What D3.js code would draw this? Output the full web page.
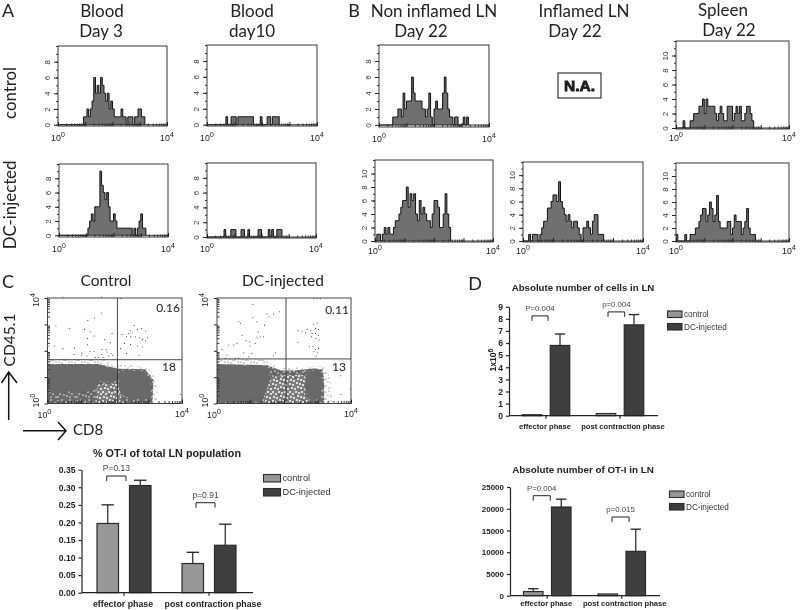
<!DOCTYPE html>
<html><head><meta charset="utf-8">
<style>
html,body{margin:0;padding:0;background:#fff}
svg{display:block;filter:blur(0.35px)}
text{font-family:"Liberation Sans",Arial,sans-serif;fill:#222}
</style>
<script src="https://cdn.jsdelivr.net/npm/d3@7/dist/d3.min.js"></script>
</head><body>
<script>
// ---------- histogram counts: one value per 1/16 decade, from 10^0 upward
const histBloodDay3Control = [0,0,0,0,0,0,0,0,0,0,0,0,0,0,0,1,1,2,1,2,3,6,4,5,4,6,5,4,3,4,2,3,2,1,1,1,1,2,1,1,0,1,1,1,0,1,1,2,2,1,1];
const histBloodDay10Control = [0,0,0,0,0,0,0,0,0,0,0,1,0,0,1,1,1,0,1,1,1,1,1,1,1,1,1,0,0,0,0,1,0,0,0,1,1,0,1,1,1,1];
const histBloodDay3Dc = [0,0,0,0,0,0,0,0,0,0,0,0,0,0,0,0,0,1,2,3,2,4,4,4,9,7,6,5,6,4,2,2,3,2,1,1,1,1,1,1,1,1,1,0,1,0,1,2,3,1,1];
const histBloodDay10Dc = [0,0,0,0,0,0,0,0,0,0,1,0,0,0,1,1,1,0,0,0,1,1,0,0,1,0,0,0,0,0,1,1,0,0,0,0,1,0,1,0,0,1,1,1];
const histNonInflControl = [0,0,0,0,0,0,0,0,1,1,1,2,2,1,4,2,3,3,3,6,4,3,3,3,3,2,2,1,2,4,1,0,2,3,2,2,2,4,6,4,2,1,1,0,1,1,0,0,0,1,0,1];
const histNonInflDc = [0,1,1,0,1,2,1,2,1,1,2,3,3,4,5,6,6,8,5,7,6,7,4,3,6,4,5,4,3,3,2,4,6,6,5,2,2,4,7,4,2];
const histInflDc = [0,0,0,1,0,1,1,1,0,1,2,3,3,5,5,6,7,7,6,9,6,5,4,3,4,3,2,3,3,2,1,0,2,2,3,2,1,3,4,4,1,1,1];
const histSpleenControl = [0,0,0,0,1,0,0,0,1,1,2,2,2,3,3,4,2,4,3,3,3,3,2,1,2,3,2,1,1,3,3,3,1,2,3,2,3,1,1,2,3,3,2,1];
const histSpleenDc = [1,0,0,0,0,1,0,0,1,1,1,2,2,3,4,5,5,3,4,6,5,3,4,7,3,2,2,2,2,3,3,1,2,4,3,3,3,1,2,3,5,2,1,1,1];
const histTicksTall = [0,2,4,6,8];
const histTicksLong = [0,2,4,6,8,10];

// ---------- dot plots: [log10 CD8, log10 CD45.1]
const dotsControl = [[.25,2.94],[.65,2.85],[1.20,3.15],[1.40,3.24],[1.60,3.43],[1.10,2.81],[1.27,2.72],[1.39,2.56],[1.92,2.66],[1.70,2.42],[1.19,2.46],[1.19,2.23],[1.87,2.30],[.80,2.09],[.46,2.08],[.20,2.18],[.05,2.18],[.79,1.86],[1.02,1.91],[1.27,1.97],[1.39,1.97],[1.62,2.05],[1.74,2.05],[1.77,1.95],[1.89,1.89],[1.94,1.82],[1.02,1.82],[1.17,1.80],[1.62,1.86],[1.82,1.80],[1.42,1.75],[1.52,1.75],[1.65,1.75],[2.22,2.62],[2.58,2.96],[2.47,2.75],[2.42,2.65],[2.52,2.68],[2.67,2.81],[2.80,2.84],[2.92,2.75],[2.35,2.53],[2.47,2.53],[2.62,2.53],[2.73,2.49],[2.82,2.43],[2.97,2.49],[2.92,2.37],[2.29,2.28],[2.47,2.24],[2.67,2.18],[2.82,2.15],[2.17,2.08],[2.35,1.90],[2.72,1.82],[.46,4.03],[1.60,4.04],[2.17,3.98],[3.62,1.45],[3.95,.35]];
const dotsDc = [[1.07,3.76],[.65,3.10],[.70,3.04],[1.07,3.25],[1.19,3.10],[1.49,3.39],[1.54,3.29],[1.69,3.39],[1.86,3.48],[1.42,2.97],[1.24,2.72],[.75,2.59],[.87,2.38],[.98,2.34],[1.19,2.51],[1.29,2.53],[1.39,2.53],[.60,2.28],[.50,2.22],[.35,2.22],[.15,2.05],[.30,1.84],[.80,1.92],[.99,2.18],[1.14,2.28],[1.04,1.90],[1.74,1.92],[1.69,1.81],[.65,1.71],[.95,1.77],[1.37,1.65],[.25,1.71],[.55,1.71],[2.42,2.76],[2.54,2.72],[2.64,2.68],[2.69,2.81],[2.79,2.76],[2.89,3.01],[2.99,3.04],[2.94,2.85],[3.03,2.81],[2.84,2.66],[2.94,2.66],[3.03,2.59],[2.82,2.53],[2.96,2.47],[3.05,2.41],[2.42,2.32],[2.76,2.15],[2.86,2.15],[2.94,2.05],[3.03,2.09],[2.89,1.96],[3.01,1.92],[2.96,1.80],[2.89,3.97],[2.99,3.97],[3.09,3.97],[3.70,1.05],[3.98,.55],[3.7,.35]];
// population outlines in the same log units
const fringeControl = [[0,1.45],[0,1.72],[1.0,1.66],[1.6,1.66],[2.0,1.5],[2.5,1.45],[3.0,1.35],[3.22,1.0],[3.28,.5],[3.25,0],[0,0]];
const speckleControl = [[0,0],[3.12,0],[3.15,.9],[2.9,1.3],[2.1,1.32],[1.5,1.5],[0,1.5]];
const heavyControl = [[1.5,.72],[2.12,.75],[2.2,.15],[2.1,0],[1.45,0]];
const solidControlLeft = [[0,1.48],[1.48,1.48],[2.0,1.3],[2.12,1.0],[1.95,.82],[1.56,.85],[1.43,.53],[1.15,.45],[.88,.38],[.6,.47],[.35,.40],[0,.43]];
const solidControlRight = [[2.13,1.23],[2.88,1.23],[3.06,.85],[3.08,.15],[2.78,.22],[2.5,.18],[2.28,.28],[2.13,.53]];
const fringeDc = [[0,1.45],[0,1.75],[1.4,1.65],[1.9,1.35],[2.3,1.38],[3.2,1.42],[3.4,.9],[3.45,0],[0,0]];
const speckleDc = [[0,0],[3.2,0],[3.2,.9],[3.15,1.3],[2.9,1.33],[2.3,1.25],[1.9,1.25],[1.5,1.45],[0,1.5]];
const heavyDc = [[1.55,.95],[2.0,1.08],[2.62,1.08],[2.62,.25],[2.75,.2],[2.75,0],[1.35,0]];
const solidDcLeft = [[0,1.46],[1.39,1.42],[1.54,1.27],[1.59,.89],[1.44,.38],[1.34,.06],[0,.06]];
const solidDcRight = [[2.69,1.2],[3.08,1.27],[3.15,.76],[3.08,.19],[2.69,.25],[2.64,.76]];

// ---------- bar charts
const phases = ["effector phase","post contraction phase"];
const seriesNames = ["control","DC-injected"];
const pctMeans = [[.197,.305],[.083,.135]];
const pctTops = [[.25,.32],[.115,.195]];
const pctTicks = [0,.05,.10,.15,.20,.25,.30,.35];
const pctP = ["P=0.13","p=0.91"];
const pctBracket = [.332,.256];
const cellsMeans = [[.08,5.8],[.18,7.5]];
const cellsTops = [[null,6.75],[null,8.35]];
const cellsTicks = [0,1,2,3,4,5,6,7,8,9];
const cellsP = ["P=0.004","p=0.004"];
const cellsBracket = [8.24,8.57];
const otiMeans = [[950,20400],[400,10200]];
const otiTops = [[1600,22200],[null,15300]];
const otiTicks = [0,5000,10000,15000,20000,25000];
const otiP = ["P=0.004","p=0.015"];
const otiBracket = [23000,18100];

// ---------- drawing
const svg = d3.select("body").append("svg").attr("width",800).attr("height",610);
const defs = svg.append("defs");
function speckPattern(id,size,bg,dots,r,color,dark){
  const p=defs.append("pattern").attr("id",id).attr("patternUnits","userSpaceOnUse").attr("width",size).attr("height",size);
  if(bg) p.append("rect").attr("width",size).attr("height",size).attr("fill",bg);
  dots.forEach(d=>p.append("circle").attr("cx",d[0]).attr("cy",d[1]).attr("r",r).attr("fill",color));
  (dark||[]).forEach(d=>p.append("circle").attr("cx",d[0]).attr("cy",d[1]).attr("r",.5).attr("fill","#222"));
}
speckPattern("speck",19,"#6a6a6a",[[1,2],[5,1],[9,3],[13,1],[17,4],[3,6],[7,7],[12,6],[15,8],[1,10],[5,11],[9,10],[18,11],[12,12],[3,14],[7,15],[15,14],[10,16],[1,17],[13,17],[18,17]],.72,"#fff",[[6,4],[14,10],[8,13]]);
speckPattern("heavy",17,"#7d7d7d",[[1,1],[4,3],[7,1],[10,2],[13,1],[16,3],[2,6],[5,7],[9,5],[12,6],[15,7],[1,10],[4,11],[8,9],[11,10],[14,11],[3,14],[6,15],[9,13],[12,14],[16,15]],1,"#fff",[[7,4],[13,9],[2,12],[10,16]]);
speckPattern("fringe",13,null,[[1,2],[4,1],[8,2],[11,4],[3,5],[6,6],[9,8],[12,9],[1,9],[4,11],[7,11],[10,12]],.55,"#333");

const bigFont='Lato,"Open Sans",sans-serif';
function label(g,x,y,t,size,opt={}){
  const el=g.append("text").attr("x",x).attr("y",y).attr("font-size",size).attr("text-anchor",opt.anchor||"middle").text(t);
  if(opt.big) el.style("font-family",bigFont);
  if(opt.bold) el.attr("font-weight","bold");
  if(opt.rotate) el.attr("transform",`rotate(-90 ${x} ${y})`);
  if(opt.fill) el.style("fill",opt.fill);
  return el;
}
function powerLabel(g,x,y,exp,size,rotate){
  const el=g.append("text").attr("x",x).attr("y",y).attr("font-size",size).attr("text-anchor","middle");
  if(rotate) el.attr("transform",`rotate(-90 ${x} ${y})`);
  el.append("tspan").text("10");
  el.append("tspan").attr("dy",-size*.4).attr("font-size",size*.85).text(exp);
}
const logMajor=[1,10,100,1000,10000];
const logMinor=d3.range(0,4).flatMap(d=>d3.range(2,10).map(k=>k*10**d));

function logAxisX(g,x,yPos){
  g.append("g").attr("transform",`translate(0,${yPos})`).call(d3.axisBottom(x).tickValues(logMinor).tickSize(-2.5).tickFormat("").tickSizeOuter(0)).call(s=>s.select(".domain").remove()).selectAll("line").attr("stroke","#333");
  g.append("g").attr("transform",`translate(0,${yPos})`).call(d3.axisBottom(x).tickValues(logMajor).tickSize(-4).tickFormat("").tickSizeOuter(0)).call(s=>s.select(".domain").remove()).selectAll("line").attr("stroke","#222");
}

function histogram(values,b){
  const g=svg.append("g");
  const x=d3.scaleLog().domain([1,10000]).range([b.x0,b.x1]);
  const y=d3.scaleLinear().domain([0,b.max]).range([b.zero,b.top]);
  const edge=i=>x(10**(i/16));
  const area=d3.area().x((d,i)=>edge(i)).y0(y(0)).y1(d=>y(d)).curve(d3.curveStepAfter);
  const line=d3.line().x((d,i)=>edge(i)).y(d=>y(d)).curve(d3.curveStepAfter);
  const vals=[...values,0];
  g.append("path").datum(vals).attr("d",area).attr("fill","#707070");
  g.append("path").datum(vals).attr("d",line).attr("fill","none").attr("stroke","#111").attr("stroke-width",1);
  g.append("line").attr("x1",b.x0).attr("x2",b.x1).attr("y1",y(0)).attr("y2",y(0)).attr("stroke","#222").attr("stroke-width",.9);
  g.append("rect").attr("x",b.x0).attr("y",b.top).attr("width",b.x1-b.x0).attr("height",b.bottom-b.top).attr("fill","none").attr("stroke","#222").attr("stroke-width",.9);
  const minor=d3.range(0,b.max+1);
  g.append("g").attr("transform",`translate(${b.x0},0)`).call(d3.axisLeft(y).tickValues(minor).tickSize(2).tickFormat("").tickSizeOuter(0)).call(s=>s.select(".domain").remove()).selectAll("line").attr("stroke","#333");
  const ya=g.append("g").attr("transform",`translate(${b.x0},0)`).call(d3.axisLeft(y).tickValues(b.ticks).tickSize(4).tickSizeOuter(0));
  ya.select(".domain").remove();
  ya.selectAll("line").attr("stroke","#222");
  ya.selectAll("text").attr("font-size",8).attr("x",0).attr("y",0).attr("dy",0).attr("text-anchor","middle")
    .attr("transform","translate(-8,0) rotate(-90)").style("fill","#333").style("font-family",'"Liberation Sans",sans-serif');
  logAxisX(g,x,b.bottom);
  powerLabel(g,b.x0,b.bottom+b.labelDy,"0",8.8);
  powerLabel(g,b.x1,b.bottom+b.labelDy,"4",8.8);
}

function dotPlot(b,dots,zones,num){
  const g=svg.append("g");
  const x=d3.scaleLog().domain([1,10000]).range([b.x0,b.x1]);
  const y=d3.scaleLog().domain([1,10000]).range([b.y0,b.y1]);
  const poly=d3.line().x(d=>x(10**d[0])).y(d=>y(10**d[1])).curve(d3.curveLinearClosed);
  g.append("path").datum(zones.fringe).attr("d",poly).attr("fill","url(#fringe)");
  g.append("path").datum(zones.speckle).attr("d",poly).attr("fill","url(#speck)");
  g.append("path").datum(zones.heavy).attr("d",poly).attr("fill","url(#heavy)");
  zones.solid.forEach(z=>g.append("path").datum(z).attr("d",poly).attr("fill","#696969"));
  g.selectAll("circle").data(dots).join("circle").attr("cx",d=>x(10**d[0])).attr("cy",d=>y(10**d[1])).attr("r",.55).attr("fill","#333");
  g.append("rect").attr("x",b.x0).attr("y",b.y1).attr("width",b.x1-b.x0).attr("height",b.y0-b.y1).attr("fill","none").attr("stroke","#333").attr("stroke-width",.9);
  g.append("line").attr("x1",x(b.gateX)).attr("x2",x(b.gateX)).attr("y1",b.y0).attr("y2",b.y1).attr("stroke","#333").attr("stroke-width",.9);
  g.append("line").attr("y1",y(b.gateY)).attr("y2",y(b.gateY)).attr("x1",b.x0).attr("x2",b.x1).attr("stroke","#333").attr("stroke-width",.9);
  logAxisX(g,x,b.y0);
  g.append("g").attr("transform",`translate(${b.x0},0)`).call(d3.axisRight(y).tickValues(logMinor).tickSize(2.5).tickFormat("").tickSizeOuter(0)).call(s=>s.select(".domain").remove()).selectAll("line").attr("stroke","#333");
  g.append("g").attr("transform",`translate(${b.x0},0)`).call(d3.axisLeft(y).tickValues(logMajor).tickSize(3).tickFormat("").tickSizeOuter(0)).call(s=>s.select(".domain").remove()).selectAll("line").attr("stroke","#222");
  powerLabel(g,b.x0-3,b.y0+14,"0",8.8);
  powerLabel(g,b.x1,b.y0+13,"4",8.8);
  powerLabel(g,b.x0-9,b.y0-3,"0",8.8,true);
  powerLabel(g,b.x0-9,b.y1+2,"4",8.8,true);
  num.forEach(n=>label(g,n[0],n[1],n[2],12,{big:true}));
}

function barChart(b,means,tops,ticks,pTexts,levels,fmt){
  const g=svg.append("g");
  const xOuter=d3.scaleBand().domain(phases).range([b.axisX,b.axisX+2*b.step]);
  const xInner=d3.scaleBand().domain(seriesNames)
    .range([b.step/2-b.barStep/2-b.barW/2,b.step/2+b.barStep/2+b.barW/2]).paddingInner(1-b.barW/b.barStep);
  const y=d3.scaleLinear().domain([0,b.max]).range([b.y0,b.yTop]);
  const fills={"control":"#979797","DC-injected":"#3f3f3f"};
  phases.forEach((ph,i)=>{
    seriesNames.forEach((s,j)=>{
      const bx=xOuter(ph)+xInner(s),cx=bx+xInner.bandwidth()/2;
      if(tops[i][j]!=null){
        g.append("line").attr("x1",cx).attr("x2",cx).attr("y1",y(means[i][j])).attr("y2",y(tops[i][j])).attr("stroke","#222").attr("stroke-width",1.2);
        g.append("line").attr("x1",cx-b.cap).attr("x2",cx+b.cap).attr("y1",y(tops[i][j])).attr("y2",y(tops[i][j])).attr("stroke","#222").attr("stroke-width",1.3);
      }
      g.append("rect").attr("x",bx).attr("width",xInner.bandwidth()).attr("y",y(means[i][j])).attr("height",y(0)-y(means[i][j]))
        .attr("fill",fills[s]).attr("stroke","#2a2a2a").attr("stroke-width",1.2);
    });
    const c=xOuter(ph)+b.step/2, br=b.bracket[i], yb=y(levels[i]);
    g.append("path").attr("d",d3.line()([[c+br[0],yb+5],[c+br[0],yb],[c+br[1],yb],[c+br[1],yb+5]])).attr("fill","none").attr("stroke","#222").attr("stroke-width",1);
    label(g,c+(br[0]+br[1])/2,yb-5,pTexts[i],b.pSize,{fill:"#444"});
  });
  const ya=g.append("g").attr("transform",`translate(${b.axisX},0)`).call(d3.axisLeft(y).tickValues(ticks).tickSize(3).tickSizeOuter(0).tickFormat(fmt));
  ya.selectAll("text").attr("font-weight","bold").attr("font-size",b.tickSize).style("font-family",'"Liberation Sans",sans-serif');
  ya.selectAll("line,path").attr("stroke","#222").attr("stroke-width",1.2);
  const xa=g.append("g").attr("transform",`translate(0,${b.y0})`).call(d3.axisBottom(xOuter).tickSize(3).tickSizeOuter(0));
  xa.select(".domain").attr("d",`M${b.axisX},0H${b.xEnd}`);
  xa.selectAll("text").remove();
  xa.selectAll("line,path").attr("stroke","#222").attr("stroke-width",1.2);
  phases.forEach((ph,i)=>label(g,xOuter(ph)+b.step/2+b.catShift[i],b.catY,ph,b.catSize,{bold:true}));
  label(g,b.titleX,b.titleY,b.title,b.titleSize,{bold:true});
  seriesNames.forEach((s,j)=>{
    g.append("rect").attr("x",b.legX).attr("y",b.legY[j]).attr("width",b.legW).attr("height",b.legH).attr("fill",fills[s]).attr("stroke","#2a2a2a").attr("stroke-width",1.1);
    label(g,b.legX+b.legW+2,b.legY[j]+b.legH/2+3,s,b.legSize,{anchor:"start",fill:"#333"});
  });
  return g;
}

// ---------- panel A/B histograms
const tall={max:10,ticks:histTicksTall};
const long={max:12,ticks:histTicksLong};
histogram(histBloodDay3Control,{...tall,x0:58,x1:167,top:46,bottom:126,zero:124.7,labelDy:14.5});
histogram(histBloodDay10Control,{...tall,x0:207,x1:317,top:45,bottom:126,zero:124.7,labelDy:14.5});
histogram(histBloodDay3Dc,{...tall,x0:59,x1:168,top:164,bottom:237,zero:235.3,labelDy:14.5});
histogram(histBloodDay10Dc,{...tall,x0:207,x1:316,top:163,bottom:238,zero:237,labelDy:14});
histogram(histNonInflControl,{...tall,x0:379,x1:489,top:45,bottom:127,zero:125,labelDy:14.5});
histogram(histNonInflDc,{...long,x0:375,x1:493,top:160,bottom:242,zero:241,labelDy:11.5});
histogram(histInflDc,{...long,x0:523,x1:643,top:162,bottom:242,zero:241,labelDy:11.5});
histogram(histSpleenControl,{...long,x0:676,x1:789,top:41,bottom:129,zero:128,labelDy:11.5});
histogram(histSpleenDc,{...long,x0:676,x1:789,top:163,bottom:242,zero:241,labelDy:11.5});

// ---------- panel C dot plots
dotPlot({x0:47.5,x1:182,y0:403.5,y1:298,gateX:10**2.08,gateY:10**1.66},dotsControl,
  {fringe:fringeControl,speckle:speckleControl,heavy:heavyControl,solid:[solidControlLeft,solidControlRight]},
  [[168,312,"0.16"],[169,371,"18"]]);
dotPlot({x0:217,x1:351,y0:403.5,y1:298,gateX:10**2.06,gateY:10**1.69},dotsDc,
  {fringe:fringeDc,speckle:speckleDc,heavy:heavyDc,solid:[solidDcLeft,solidDcRight]},
  [[337,314,"0.11"],[339,371,"13"]]);

// ---------- bar panels
barChart({axisX:81.5,xEnd:253,step:85,barStep:32.5,barW:21.5,cap:6.2,max:.35,y0:592.7,yTop:469.7,
  bracket:[[-17.3,2],[-13,6]],pSize:8.5,tickSize:8.6,catShift:[-1,4],catY:607,catSize:8.8,
  title:"% OT-I of total LN population",titleX:167,titleY:457,titleSize:10.8,
  legX:263.5,legY:[474.5,488.5],legW:17,legH:7.5,legSize:9.2},pctMeans,pctTops,pctTicks,pctP,pctBracket,d3.format(".2f"));
const gCells=barChart({axisX:509,xEnd:658,step:74,barStep:28,barW:19.5,cap:5.2,max:9,y0:415.7,yTop:306.7,
  bracket:[[-14,2],[-12,4.7]],pSize:7.8,tickSize:8.6,catShift:[-1,3],catY:428.5,catSize:7.6,
  title:"Absolute number of cells in LN",titleX:583,titleY:290.5,titleSize:9.7,
  legX:667.5,legY:[311,323.5],legW:14.5,legH:6.5,legSize:8.2},cellsMeans,cellsTops,cellsTicks,cellsP,cellsBracket,d3.format("d"));
const yLab=gCells.append("text").attr("x",496).attr("y",360).attr("font-size",8.6).attr("font-weight","bold").attr("text-anchor","middle").attr("transform","rotate(-90 496 360)");
yLab.append("tspan").text("1x10");
yLab.append("tspan").attr("dy",-3).attr("font-size",7).text("6");
barChart({axisX:510,xEnd:660,step:74.5,barStep:28,barW:19.5,cap:5.2,max:25000,y0:595.7,yTop:487,
  bracket:[[-14,3],[-9.7,7.3]],pSize:7.8,tickSize:8,catShift:[-1,3],catY:606,catSize:7.6,
  title:"Absolute number of OT-I in LN",titleX:583,titleY:473,titleSize:9.8,
  legX:669.5,legY:[491,503.5],legW:14.5,legH:6.5,legSize:8.2},otiMeans,otiTops,otiTicks,otiP,otiBracket,d3.format("d"));

// ---------- headings and annotation
const t=svg.append("g");
[["A",8,16.5],["B",354,16.5],["C",8,288],["D",475,290]].forEach(d=>label(t,d[1],d[2],d[0],18,{big:true}));
[["Blood",102,16.5],["Day 3",101,37],["Blood",252,16.5],["day10",252,37],["Non inflamed LN",434,16.5],["Day 22",421,37],["Inflamed LN",584,16.5],["Day 22",575,37],["Spleen",723,15.5],["Day 22",729,36]]
 .forEach(d=>label(t,d[1],d[2],d[0],17,{big:true}));
[["Control",106,286],["DC-injected",283,286]].forEach(d=>label(t,d[1],d[2],d[0],15.5,{big:true}));
label(t,16,93,"control",16.8,{big:true,rotate:true});
label(t,16,205,"DC-injected",16.8,{big:true,rotate:true});
label(t,15,340,"CD45.1",15.5,{big:true,rotate:true});
label(t,73,435,"CD8",15,{big:true,anchor:"start"});
const arrowStyle=s=>s.attr("fill","none").attr("stroke","#111").attr("stroke-width",1.5);
t.append("path").attr("d","M8.7,420V373M1.5,383L8.7,372L17,383").call(arrowStyle);
t.append("path").attr("d","M23,430.7H65M58,422L66,430.7L58,440").call(arrowStyle);
t.append("rect").attr("x",558).attr("y",73).attr("width",43).attr("height",25).attr("fill","#fff").attr("stroke","#222").attr("stroke-width",1.1);
t.append("text").attr("x",579.5).attr("y",91).attr("text-anchor","middle").attr("font-size",15.5).attr("font-weight","bold").attr("stroke","#111").attr("stroke-width",.8).text("N.A.");
</script>
</body></html>
